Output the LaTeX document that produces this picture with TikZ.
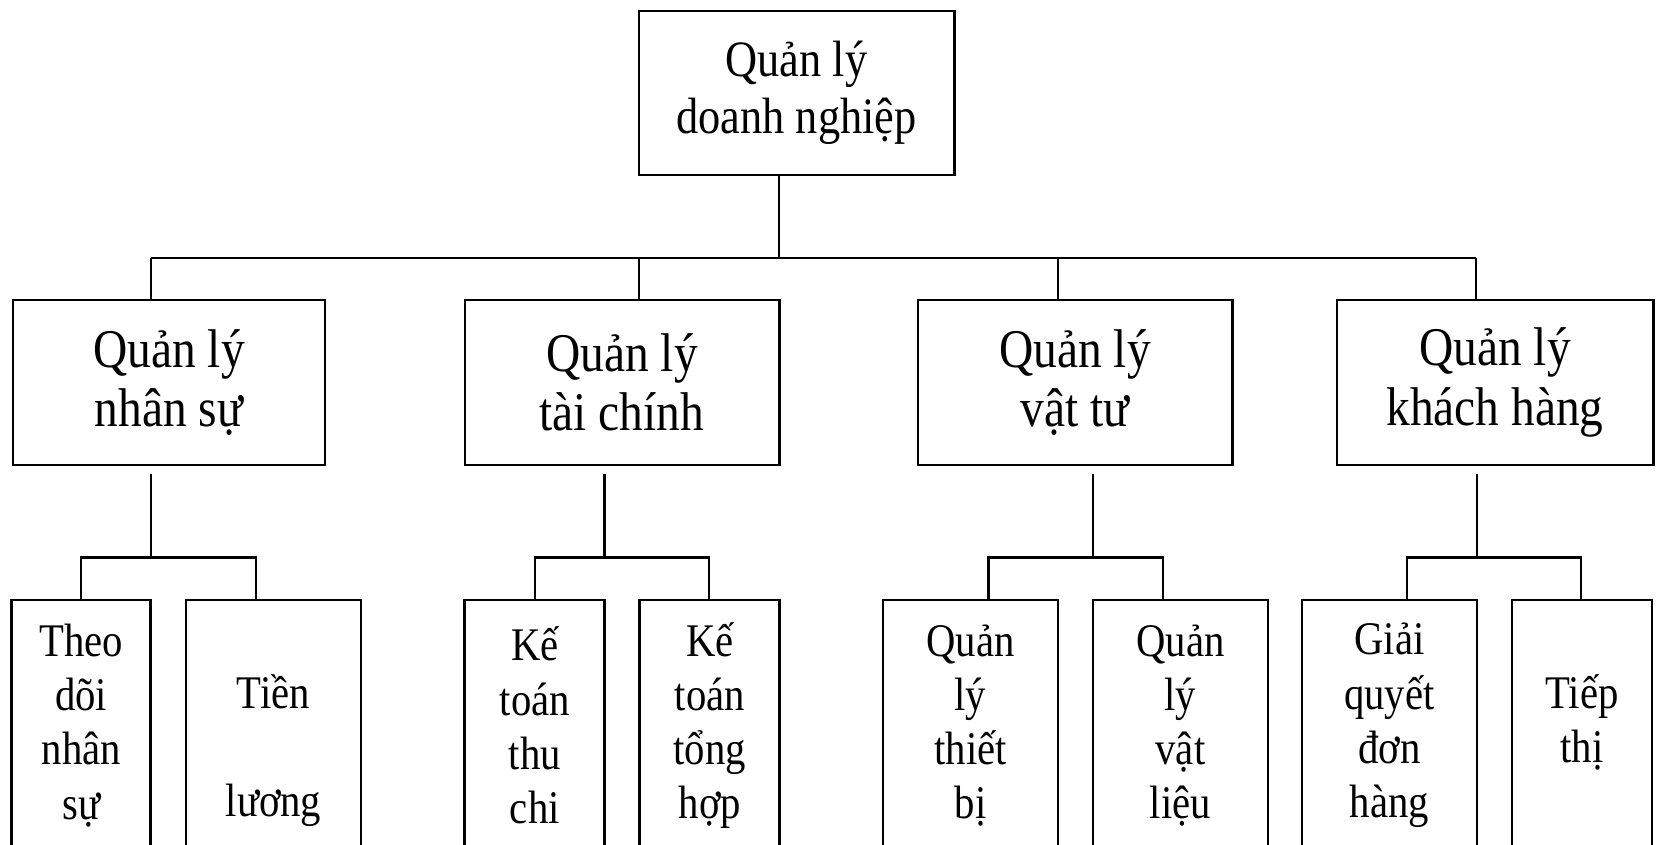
\documentclass[tikz,border=0pt]{standalone}
\usepackage{fontspec}
\setmainfont{Liberation Serif}[FakeStretch=0.87]
\tikzstyle{root} = [draw, rectangle, line width=0.8pt, inner sep=0pt, align=center, minimum width=3.15cm, minimum height=1.64cm, font=\fontsize{14.5}{16.2}\selectfont]
\tikzstyle{dept} = [draw, rectangle, line width=0.8pt, inner sep=0pt, align=center, minimum height=1.65cm, font=\fontsize{15.5}{16.9}\selectfont]
\tikzstyle{task} = [draw, rectangle, line width=0.8pt, inner sep=0pt, align=center, anchor=north, minimum height=2.51cm, font=\fontsize{13.3}{15.4}\selectfont]
\tikzstyle{link} = [line width=0.6pt]
\newcommand{\blankline}{\phantom{Tg}}

\begin{document}
\begin{tikzpicture}[x=0.01cm, y=-0.01cm]
    \fill[white] (0,0) rectangle (1656,845);
    \clip (0,0) rectangle (1656,845);
    \node[root] (qldn) at (796.5,93) {Quản lý\\doanh nghiệp};
    \node[dept, minimum width=3.12cm] (qlns) at (169,382.5) {Quản lý\\nhân sự};
    \node[dept, minimum width=3.14cm] (qltc) at (622,382.5) {Quản lý\\tài chính};
    \node[dept, minimum width=3.14cm] (qlvt) at (1075,382.5) {Quản lý\\vật tư};
    \node[dept, minimum width=3.16cm] (qlkh) at (1495,382.5) {Quản lý\\khách hàng};
    \node[task, minimum width=1.39cm] (tdns) at (81.3,598.5) {Theo\\dõi\\nhân\\sự};
    \node[task, minimum width=1.75cm] (tl) at (273.5,598.5) {\blankline\\Tiền\\\blankline\\lương};
    \node[task, minimum width=1.40cm] (kttc) at (534.8,598.5) {Kế\\toán\\thu\\chi};
    \node[task, minimum width=1.40cm] (ktth) at (709.8,598.5) {Kế\\toán\\tổng\\hợp};
    \node[task, minimum width=1.75cm] (qltb) at (970.5,598.5) {Quản\\lý\\thiết\\bị};
    \node[task, minimum width=1.75cm] (qlvl) at (1180.5,598.5) {Quản\\lý\\vật\\liệu};
    \node[task, minimum width=1.75cm] (gqdh) at (1389.5,598.5) {Giải\\quyết\\đơn\\hàng};
    \node[task, minimum width=1.40cm] (tt) at (1582,598.5) {\blankline\\Tiếp\\thị\\\blankline};

    \coordinate (hub) at (779,258);
    \coordinate (b1) at (151,258);
    \coordinate (b2) at (639,258);
    \coordinate (b3) at (1058,258);
    \coordinate (b4) at (1476,258);
    \draw[link] (qldn.south -| hub) -- (hub);
    \draw[link] (b1) -- (b4);
    \foreach \b/\n in {b1/qlns, b2/qltc, b3/qlvt, b4/qlkh}
        \draw[link] (\b) -- (\b |- \n.north);

    \foreach \x/\l/\r/\a/\c in {151/81/256/tdns/tl, 604.5/535/709/kttc/ktth, 1093/988.5/1163/qltb/qlvl, 1477/1407/1581/gqdh/tt}{
        \coordinate (s) at (\x,473.5);
        \coordinate (j) at (\x,557.5);
        \coordinate (jl) at (\l,557.5);
        \coordinate (jr) at (\r,557.5);
        \draw[link] (s) -- (j);
        \draw[link] (jl |- \a.north) -- (jl) -- (jr) -- (jr |- \c.north);
    }
\end{tikzpicture}
\end{document}
